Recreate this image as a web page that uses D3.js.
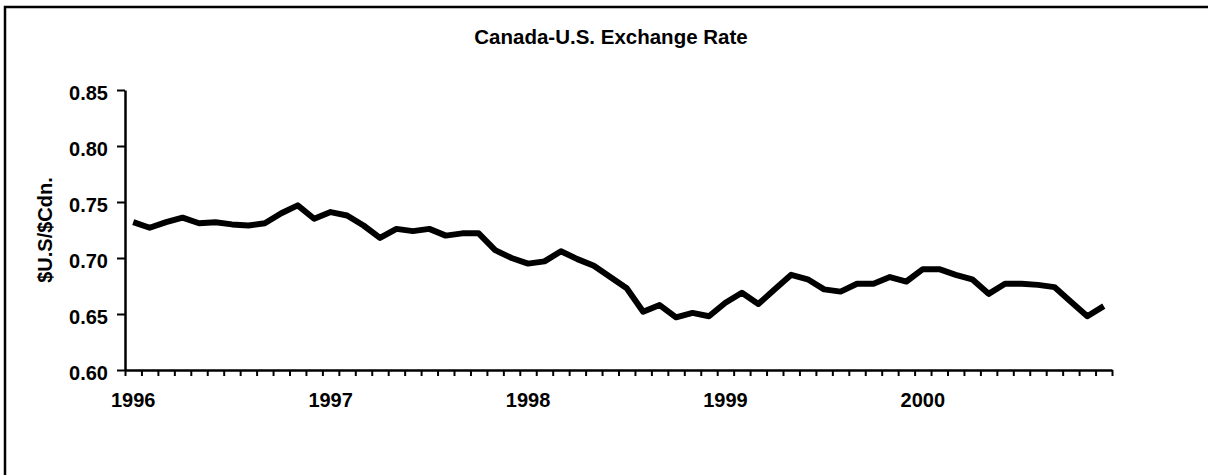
<!DOCTYPE html>
<html>
<head>
<meta charset="utf-8">
<script src="https://cdnjs.cloudflare.com/ajax/libs/d3/7.8.5/d3.min.js"></script>
<style>
  body { margin: 0; background: #fff; overflow: hidden; }
  svg { display: block; }
  text { font-family: "Liberation Sans", Arial, sans-serif; font-weight: bold; fill: #000; }
</style>
</head>
<body>
<script>
// monthly data, Jan 1996 - Dec 2000
var years = ["1996", "1997", "1998", "1999", "2000"];
var months = [];
years.forEach(function(y) {
    for (var m = 1; m <= 12; m++) months.push(y + "-" + (m < 10 ? "0" + m : m));
});
var rates = [
    0.732, 0.727, 0.732, 0.736, 0.731, 0.732, 0.730, 0.729, 0.731, 0.740, 0.747, 0.735,
    0.741, 0.738, 0.729, 0.718, 0.726, 0.724, 0.726, 0.720, 0.722, 0.722, 0.707, 0.700,
    0.695, 0.697, 0.706, 0.699, 0.693, 0.683, 0.673, 0.652, 0.658, 0.647, 0.651, 0.648,
    0.660, 0.669, 0.659, 0.672, 0.685, 0.681, 0.672, 0.670, 0.677, 0.677, 0.683, 0.679,
    0.690, 0.690, 0.685, 0.681, 0.668, 0.677, 0.677, 0.676, 0.674, 0.661, 0.648, 0.657
];
var yTicks = [0.60, 0.65, 0.70, 0.75, 0.80, 0.85];

var W = 1208, H = 475;
var plotLeft = 125, plotRight = 1112, plotTop = 90, plotBottom = 370;

var svg = d3.select("body").append("svg")
    .attr("width", W)
    .attr("height", H);

// outer frame (only top and left edges fall inside the picture)
svg.append("path")
    .attr("d", "M5," + (H + 10) + "V7H" + (W + 10))
    .attr("fill", "none")
    .attr("stroke", "#000")
    .attr("stroke-width", 2.5);

svg.append("text")
    .attr("x", 611).attr("y", 44)
    .attr("text-anchor", "middle")
    .style("font-size", "20.5px")
    .text("Canada-U.S. Exchange Rate");

// scales
var x = d3.scaleLinear().domain([0, months.length]).range([plotLeft, plotRight]);
var y = d3.scaleLinear().domain([0.60, 0.85]).range([plotBottom, plotTop]);

// y axis
var yAxis = svg.append("g")
    .attr("transform", "translate(" + plotLeft + ",0)")
    .call(d3.axisLeft(y).tickValues(yTicks).tickFormat(d3.format(".2f")).tickSize(8).tickPadding(9).tickSizeOuter(0));
yAxis.selectAll("text").style("font-size", "20px").attr("dy", "0.45em");

// x axis: tick marks between months
var xAxis = svg.append("g")
    .attr("transform", "translate(0," + plotBottom + ")")
    .call(d3.axisBottom(x).tickValues(d3.range(months.length + 1)).tickFormat("").tickSize(6).tickSizeOuter(0));

svg.selectAll(".domain").attr("stroke-width", 2.5);
svg.selectAll(".tick line").attr("stroke-width", 2);

// year labels at January of each year
svg.selectAll(".year")
    .data(years)
    .enter().append("text")
    .attr("class", "year")
    .attr("x", function(d, i) { return x(i * 12 + 0.5); })
    .attr("y", 407)
    .attr("text-anchor", "middle")
    .style("font-size", "20px")
    .text(function(d) { return d; });

svg.append("text")
    .attr("transform", "translate(52," + ((plotTop + plotBottom) / 2) + ") rotate(-90)")
    .attr("text-anchor", "middle")
    .style("font-size", "20px")
    .text("$U.S/$Cdn.");

// the line
var line = d3.line()
    .x(function(d, i) { return x(i + 0.5); })
    .y(function(d) { return y(d); });

svg.append("path")
    .datum(rates)
    .attr("d", line)
    .attr("fill", "none")
    .attr("stroke", "#000")
    .attr("stroke-width", 6)
    .attr("stroke-linejoin", "round");
</script>
</body>
</html>
